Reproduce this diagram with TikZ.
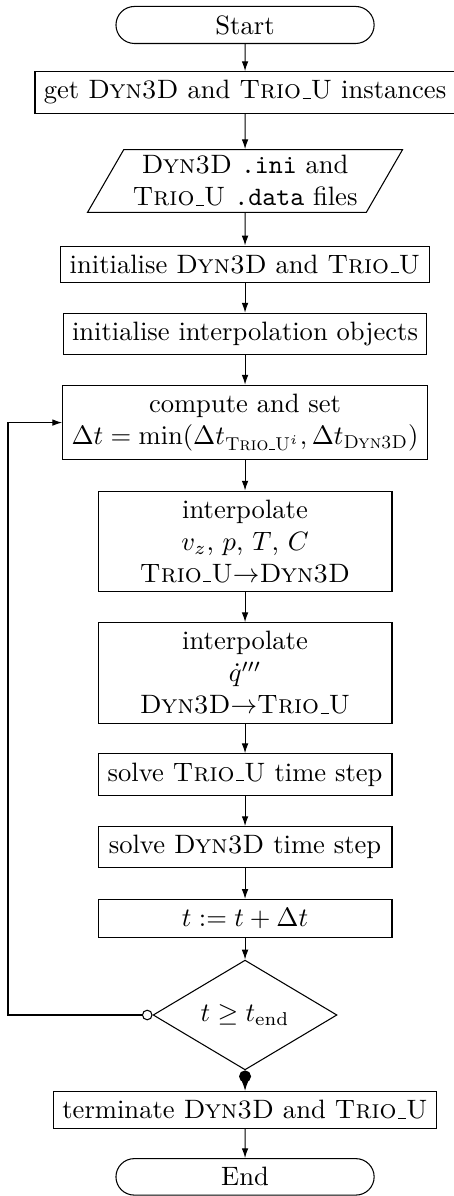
\documentclass[tikz,border=0pt]{standalone}
\usepackage{amsmath}
\usetikzlibrary{shapes.geometric,shapes.misc,arrows.meta}
\newcommand{\dyn}{\textsc{Dyn3D}}
\newcommand{\trio}{\textsc{Trio\kern.06em\vbox{\hrule width.3em}U}}
\tikzset{
  startstop/.style={rounded rectangle,draw,minimum width=103.8pt,minimum height=13.5pt},
  process/.style={rectangle,draw,align=center,minimum width=110.6pt},
  io/.style={trapezium,trapezium left angle=60,trapezium right angle=120,draw,align=center,inner ysep=2.2pt},
  decision/.style={diamond,draw,minimum width=69.2pt,minimum height=33.9pt,inner sep=0pt},
  flow/.style={-{Latex[length=3.7pt,width=2.5pt]}},
}
\begin{document}
\begin{tikzpicture}[x=1pt,y=1pt]
\path[use as bounding box] (0,0) rectangle (170.8,450);

\node[startstop] (start) at (92.2,440.6) {Start};
\node[process] (get) at (92.2,415.2) {get \dyn{} and \trio{} instances};
\node[io] (files) at (92.2,381.9) {\dyn{} \texttt{.ini} and\\ \trio{} \texttt{.data} files};
\node[process] (init) at (92.2,350.5) {initialise \dyn{} and \trio};
\node[process] (interpobj) at (92.2,324.3) {initialise interpolation objects};
\node[process] (compute) at (92.2,291.0) {compute and set\\ $\Delta t = \min(\Delta t_{\text{\trio}^i}, \Delta t_{\text{\dyn}})$};
\node[process] (interpA) at (92.2,246.3) {interpolate\\ $v_z$, $p$, $T$, $C$\\ \trio$\rightarrow$\dyn};
\node[process] (interpB) at (92.2,196.8) {interpolate\\ $\dot{q}'''$\\ \dyn$\rightarrow$\trio};
\node[process] (solveT) at (92.2,158.6) {solve \trio{} time step};
\node[process] (solveD) at (92.2,131.2) {solve \dyn{} time step};
\node[process] (tstep) at (92.2,104.4) {$t := t + \Delta t$};
\node[decision] (check) at (92.2,68.1) {$t \geq t_\mathrm{end}$};
\node[process] (term) at (92.2,32.4) {terminate \dyn{} and \trio};
\node[startstop] (end) at (92.2,7.2) {End};

\coordinate (loop) at (3,68.1);

\draw[flow] (start) -- (get);
\draw[flow] (get) -- (files);
\draw[flow] (files) -- (init);
\draw[flow] (init) -- (interpobj);
\draw[flow] (interpobj) -- (compute);
\draw[flow] (compute) -- (interpA);
\draw[flow] (interpA) -- (interpB);
\draw[flow] (interpB) -- (solveT);
\draw[flow] (solveT) -- (solveD);
\draw[flow] (solveD) -- (tstep);
\draw[flow] (tstep) -- (check);
\draw[{Circle[open,length=4pt]}-{Latex[length=3.7pt,width=2.5pt]}] (check.west) -- (loop) |- (compute.west);
\draw[{Circle[length=4.5pt]}-{Latex[length=3.7pt,width=2.5pt]}] (check.south) -- (term);
\draw[flow] (term) -- (end);
\end{tikzpicture}
\end{document}
